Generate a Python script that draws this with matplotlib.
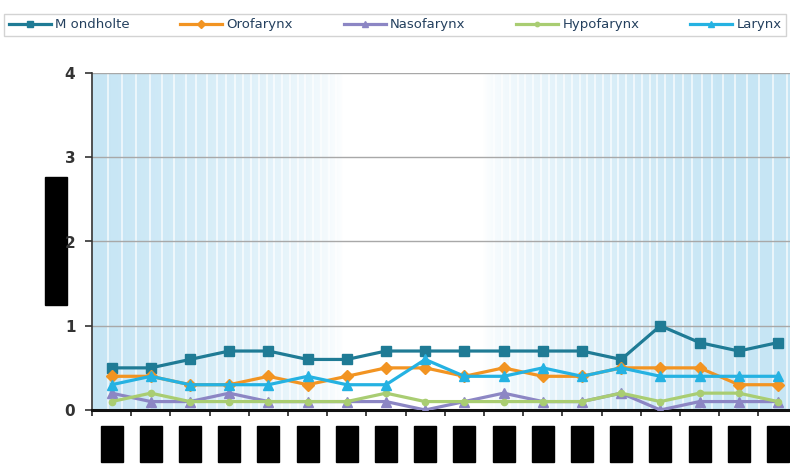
import numpy as np
import matplotlib
matplotlib.use("Agg")
import matplotlib.pyplot as plt
from matplotlib.patches import Rectangle
from matplotlib.transforms import blended_transform_factory

# series values, 18 groups each
mondholte  = [0.5, 0.5, 0.6, 0.7, 0.7, 0.6, 0.6, 0.7, 0.7, 0.7, 0.7, 0.7, 0.7, 0.6, 1.0, 0.8, 0.7, 0.8]
orofarynx  = [0.4, 0.4, 0.3, 0.3, 0.4, 0.3, 0.4, 0.5, 0.5, 0.4, 0.5, 0.4, 0.4, 0.5, 0.5, 0.5, 0.3, 0.3]
nasofarynx = [0.2, 0.1, 0.1, 0.2, 0.1, 0.1, 0.1, 0.1, 0.0, 0.1, 0.2, 0.1, 0.1, 0.2, 0.0, 0.1, 0.1, 0.1]
hypofarynx = [0.1, 0.2, 0.1, 0.1, 0.1, 0.1, 0.1, 0.2, 0.1, 0.1, 0.1, 0.1, 0.1, 0.2, 0.1, 0.2, 0.2, 0.1]
larynx     = [0.3, 0.4, 0.3, 0.3, 0.3, 0.4, 0.3, 0.3, 0.6, 0.4, 0.4, 0.5, 0.4, 0.5, 0.4, 0.4, 0.4, 0.4]

labels = ["M ondholte", "Orofarynx", "Nasofarynx", "Hypofarynx", "Larynx"]
yticks = [0, 1, 2, 3, 4]

series = [mondholte, orofarynx, nasofarynx, hypofarynx, larynx]
colors = ["#1f7b95", "#f29422", "#8c86c4", "#a9cd72", "#25b2e2"]
markers = ["s", "D", "^", "o", "^"]
msizes = [7, 6.5, 7, 4.5, 7]

fig = plt.figure(figsize=(7.9, 4.65), dpi=100)
ax = fig.add_axes([92/790, 55/465, 705.6/790, 337/465])

n = len(mondholte)
x = np.arange(n) + 0.5
ax.set_xlim(0, n)
ax.set_ylim(0, 4)

# blue-white-blue gradient background with thin light stripes
t = np.linspace(0, 1, 800)
w = np.clip((np.abs(t - 0.455) - 0.1) / 0.34, 0, 1) ** 0.6
blue = np.array([0.78, 0.9, 0.96])
img = 1 - (1 - blue)[None, :] * w[:, None]
ax.imshow(img[None, :, :], extent=[0, 1, 0, 1], transform=ax.transAxes,
          aspect="auto", zorder=0)
pos = []
p, step = 0.0, 0.022
while p < 0.36:
    pos.append(p)
    p += step
    step = max(step * 0.95, 0.011)
p, step = 0.985, 0.02
while p > 0.56:
    pos.append(p)
    p -= step
    step = max(step * 0.95, 0.011)
for s in pos:
    ax.axvline(s * n, color="white", lw=1.3, alpha=0.7, zorder=0.5)

ax.grid(axis="y", color="#a8a8a8", lw=1.0, zorder=1)
ax.set_axisbelow(True)

for vals, lab, c, m, ms in zip(series, labels, colors, markers, msizes):
    ax.plot(x, vals, color=c, lw=2.3, marker=m, ms=ms, label=lab, zorder=3)

ax.set_yticks(yticks)
ax.set_yticklabels([str(v) for v in yticks], fontsize=11, fontweight="bold",
                   color="#333333")
ax.set_xticks(np.arange(n + 1))
ax.set_xticklabels([])
ax.tick_params(axis="y", length=5, width=1.2, pad=7, color="#333333")
ax.tick_params(axis="x", length=4, width=1.2, color="#222222")
for side in ["top", "right"]:
    ax.spines[side].set_visible(False)
ax.spines["left"].set_color("#333333")
ax.spines["left"].set_linewidth(1.2)
ax.spines["bottom"].set_color("#111111")
ax.spines["bottom"].set_linewidth(2.2)

# blacked-out category labels and axis title
tr = blended_transform_factory(ax.transData, fig.transFigure)
for xi in x:
    ax.add_patch(Rectangle((xi - 0.28, 3/465), 0.56, 36/465, transform=tr,
                           color="black", clip_on=False, zorder=5))
fig.patches.append(Rectangle((45/790, 160/465), 22/790, 128/465,
                             transform=fig.transFigure, color="black",
                             zorder=-1))

leg = fig.legend(loc="lower left", bbox_to_anchor=(4/790, 1 - 36/465, 782/790, 28/465),
                 mode="expand", ncol=5, frameon=True, fancybox=False,
                 fontsize=9.5, handlelength=3.2, handletextpad=0.3,
                 borderaxespad=0, borderpad=0.35, markerscale=0.7)
leg.get_frame().set_edgecolor("#c8c8c8")
leg.get_frame().set_linewidth(1.0)
for txt in leg.get_texts():
    txt.set_color("#24405e")

fig.savefig("out.png", dpi=100)
